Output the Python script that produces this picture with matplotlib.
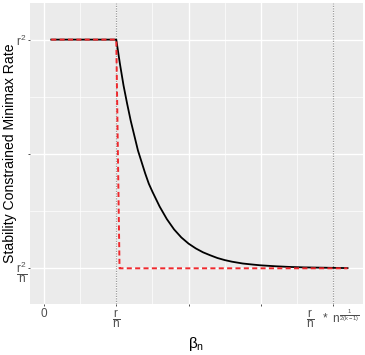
import matplotlib
matplotlib.use("Agg")
import matplotlib.pyplot as plt

plt.rcParams['font.family'] = ['Liberation Sans', 'DejaVu Sans']
plt.rcParams['mathtext.fontset'] = 'custom'
plt.rcParams['mathtext.rm'] = 'Liberation Sans'
plt.rcParams['mathtext.it'] = 'Liberation Sans'
plt.rcParams['mathtext.bf'] = 'Liberation Sans:bold'

# Data (r^2 -> 1, r^2/n -> 0 ; r/n -> 1)
flat_x = [0.1, 1.0]
flat_y = [1.0, 1.0]
curve_x = [1.0, 1.05, 1.1, 1.15, 1.2, 1.25, 1.3, 1.35, 1.4, 1.45, 1.5, 1.6, 1.7, 1.8, 1.9,
           2.0, 2.1, 2.2, 2.3, 2.4, 2.5, 2.6, 2.75, 2.9, 3.0, 3.2, 3.4, 3.6, 3.8, 4.0, 4.2]
curve_y = [1.0, 0.895, 0.80, 0.72, 0.645, 0.58, 0.515, 0.465, 0.415, 0.37, 0.335, 0.27, 0.215,
           0.17, 0.135, 0.108, 0.087, 0.07, 0.057, 0.045, 0.036, 0.029, 0.021, 0.016, 0.013,
           0.009, 0.006, 0.004, 0.003, 0.002, 0.001]
red_x = [0.1, 1.0, 1.045, 4.2]
red_y = [1.0, 1.0, 0.0, 0.0]
vlines = [1.0, 4.0]

x_breaks = [0, 1, 2, 3, 4]
x_labels = ['0', r'$\dfrac{r}{n}$', '', '', r'$\dfrac{r}{n}\ \ *\ n^{\frac{1}{2(k-1)}}$']
y_breaks = [0.0, 0.5, 1.0]
y_labels = [r'$\dfrac{r^2}{n}$', '', r'$r^2$']

fig = plt.figure(figsize=(3.65, 3.55), dpi=100)
ax = fig.add_axes([0.081, 0.1437, 0.9127, 0.8478])
ax.set_facecolor('#EBEBEB')

ax.set_xlim(-0.2, 4.41)
ax.set_ylim(-0.156, 1.16)

for v in [0.5, 1.5, 2.5, 3.5]:
    ax.axvline(v, color='white', lw=0.5, zorder=0.5)
for v in [0.25, 0.75]:
    ax.axhline(v, color='white', lw=0.5, zorder=0.5)
for v in x_breaks:
    ax.axvline(v, color='white', lw=1.0, zorder=0.6)
for v in y_breaks:
    ax.axhline(v, color='white', lw=1.0, zorder=0.6)

for v in vlines:
    ax.axvline(v, color='#9A9A9A', lw=0.9, ls=(0, (1, 1)), zorder=1)

ax.plot(flat_x + curve_x[1:], flat_y + curve_y[1:], color='black', lw=1.3, zorder=2,
        solid_joinstyle='round')
ax.plot(red_x, red_y, color='#F0282D', lw=1.4, ls=(0, (2.6, 1.7)), zorder=3)

ax.set_xticks(x_breaks)
ax.set_xticklabels(x_labels)
ax.set_yticks(y_breaks)
ax.set_yticklabels(y_labels)
ax.tick_params(axis='x', colors='#333333', length=1.6, width=0.6, labelsize=8.5,
               labelcolor='#4D4D4D', pad=1)
ax.tick_params(axis='y', colors='#333333', length=1.6, width=0.6, labelsize=8.5,
               labelcolor='#4D4D4D', pad=0.2)

for s in ax.spines.values():
    s.set_visible(False)

ax.set_xlabel(r'$\mathregular{\beta_n}$', fontsize=11)
ax.xaxis.set_label_coords(0.5, -0.103)
ax.set_ylabel('Stability Constrained Minimax Rate', fontsize=10.1)
ax.yaxis.set_label_coords(-0.039, 0.5)

fig.savefig('out.png', dpi=100)
